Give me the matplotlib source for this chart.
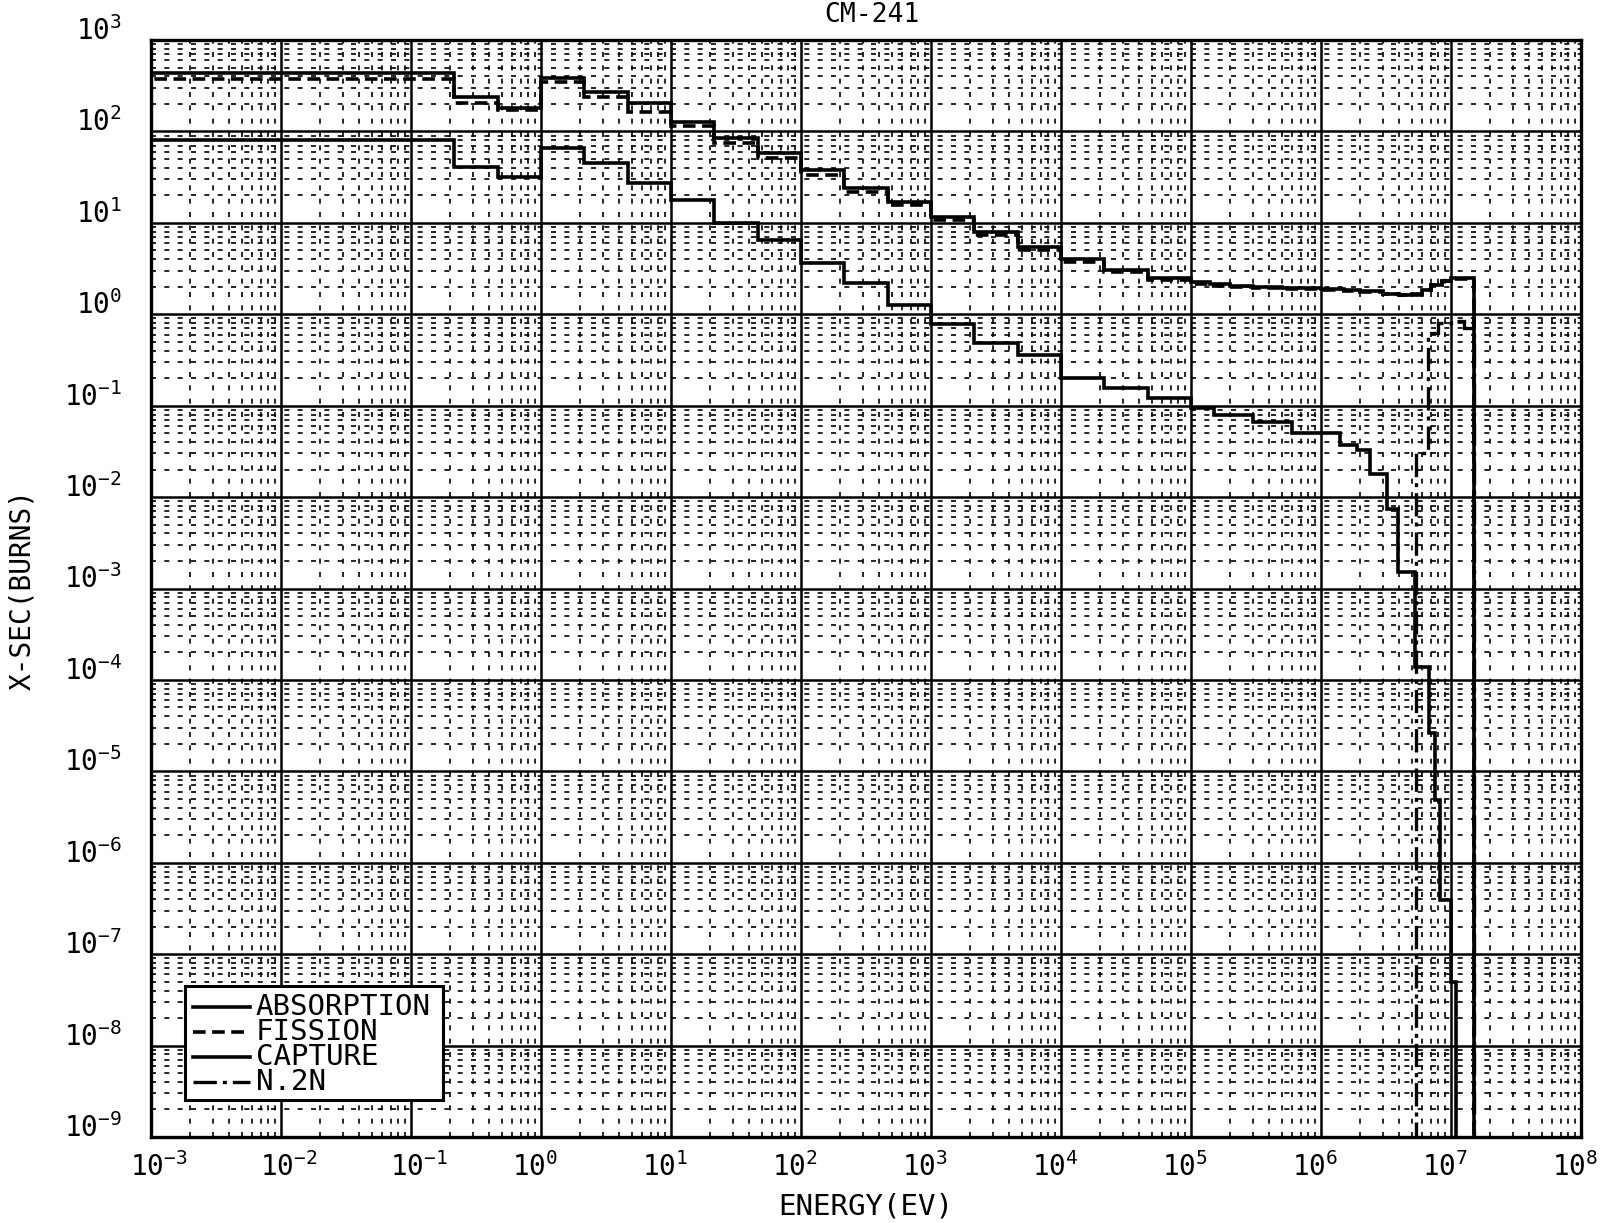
import numpy as np
import matplotlib
matplotlib.use("Agg")
import matplotlib.pyplot as plt
from matplotlib.ticker import LogLocator
from matplotlib.transforms import ScaledTranslation

# ---- group cross sections (barns) versus neutron energy (eV) ----
abs_edges = [1e-3, 0.215, 0.464, 1.0, 2.15, 4.64, 10.0, 21.5, 46.4, 100.0,
             215.0, 464.0, 1e3, 2.15e3, 4.64e3, 1e4, 2.15e4, 4.64e4, 1e5,
             1.4e5, 2e5, 3e5, 5e5, 7e5, 1e6, 1.5e6, 2e6, 3e6, 4e6, 5e6, 6e6,
             7e6, 8.5e6, 1e7, 1.2e7, 1.5e7]
absorption = [436, 238, 180, 385, 270, 205, 126, 85, 58, 37.9,
              24, 16.9, 11.6, 7.94, 5.43, 4.0, 3.05, 2.49,
              2.25, 2.12, 2.05, 1.98, 1.94, 1.92, 1.88, 1.84, 1.80, 1.68,
              1.64, 1.66, 1.86, 2.10, 2.33, 2.50, 2.50]
fission = [374, 205, 171, 345, 240, 163, 115, 74.6, 51, 33.4,
           21.7, 15.7, 10.7, 7.35, 5.0, 3.75, 2.88, 2.36,
           2.15, 2.04, 1.98, 1.92, 1.89, 1.87, 1.84, 1.80, 1.77, 1.66,
           1.62, 1.64, 1.84, 2.08, 2.30, 2.46, 2.46]

cap_edges = [1e-3, 0.215, 0.464, 1.0, 2.15, 4.64, 10.0, 21.5, 46.4, 100.0,
             215.0, 464.0, 1e3, 2.15e3, 4.64e3, 1e4, 2.15e4, 4.64e4, 1e5,
             1.5e5, 3e5, 6e5, 1e6, 1.4e6, 1.9e6, 2.4e6, 3.2e6, 3.9e6, 5.3e6,
             6.8e6, 7.5e6, 8.3e6, 1e7, 1.1e7]
capture = [80.5, 40.7, 31.7, 65.7, 45, 27.2, 17.8, 10.0, 6.5, 3.63,
           2.19, 1.26, 0.78, 0.48, 0.36, 0.20, 0.156, 0.121,
           0.094, 0.080, 0.066, 0.050, 0.050, 0.037, 0.033, 0.018, 0.0075,
           0.0015, 1.4e-4, 2.6e-5, 4.8e-6, 3.9e-7, 5e-8]

n2n_edges = [5.4e6, 6.6e6, 8e6, 1e7, 1.25e7, 1.5e7]
n2n = [0.03, 0.62, 0.80, 0.85, 0.70]

x_ticks = [1e-3, 1e-2, 1e-1, 1e0, 1e1, 1e2, 1e3, 1e4, 1e5, 1e6, 1e7, 1e8]
x_exps = [-3, -2, -1, 0, 1, 2, 3, 4, 5, 6, 7, 8]
y_ticks = [1e-9, 1e-8, 1e-7, 1e-6, 1e-5, 1e-4, 1e-3, 1e-2, 1e-1, 1e0, 1e1, 1e2, 1e3]
y_exps = [-9, -8, -7, -6, -5, -4, -3, -2, -1, 0, 1, 2, 3]

series_labels = ["ABSORPTION", "FISSION", "CAPTURE", "N.2N"]

plt.rcParams["font.family"] = ["DejaVu Sans Mono"]
plt.rcParams["mathtext.default"] = "regular"

W, H = 1612, 1223
fig = plt.figure(figsize=(W / 100, H / 100), dpi=100)
fig.patch.set_facecolor("white")
ax = fig.add_axes([151 / W, 1 - 1137 / H, (1581 - 151) / W, (1137 - 40) / H])
ax.set_xscale("log")
ax.set_yscale("log")
ax.set_xlim(1e-3, 1e8)
ax.set_ylim(1e-9, 1e3)

# grid: solid decades, dashed 2..9 subdivisions
for axis in (ax.xaxis, ax.yaxis):
    axis.set_major_locator(LogLocator(base=10, numticks=40))
    axis.set_minor_locator(LogLocator(base=10, subs=np.arange(2, 10), numticks=40))
ax.grid(True, which="major", color="k", lw=1.8, zorder=1)
ax.grid(True, which="minor", color="k", lw=1.2, ls=(0, (3, 5)), zorder=1)
ax.set_axisbelow(True)
ax.tick_params(which="both", length=0)
for sp in ax.spines.values():
    sp.set_linewidth(2.4)

styles = {
    "abs": dict(color="k", lw=2.6, ls="-"),
    "fis": dict(color="k", lw=2.6, ls=(0, (3.5, 1.8))),
    "cap": dict(color="k", lw=2.6, ls="-"),
    "n2n": dict(color="k", lw=2.4, ls=(0, (7, 1.8, 1.2, 1.8))),
}
floor = 1e-12
ax.stairs(absorption, abs_edges, baseline=floor, zorder=4, **styles["abs"])
ax.stairs(fission, abs_edges, baseline=floor, zorder=4, **styles["fis"])
ax.stairs(capture, cap_edges, baseline=floor, zorder=4, **styles["cap"])
ax.stairs(n2n, n2n_edges, baseline=floor, zorder=4, **styles["n2n"])

# tick labels
ax.set_xticks(x_ticks)
ax.set_xticklabels([r"$10^{%d}$" % e for e in x_exps], fontsize=20)
ax.set_yticks(y_ticks)
ax.set_yticklabels([r"$10^{%d}$" % e for e in y_exps], fontsize=20)
ax.tick_params(axis="x", pad=11)
ax.tick_params(axis="y", pad=21)
for lab, e in zip(ax.get_xticklabels(), x_exps):
    dx = 8 if e < 0 else -6
    lab.set_transform(lab.get_transform()
                      + ScaledTranslation(dx / 100, 0, fig.dpi_scale_trans))
for lab in ax.get_yticklabels():
    lab.set_verticalalignment("baseline")

# titles
fig.text(872 / W, 1 - 15 / H, "CM-241", ha="center", va="center", fontsize=19)
fig.text(866 / W, 1 - 1206 / H, "ENERGY(EV)", ha="center", va="center", fontsize=21)
fig.text(22 / W, 1 - 590 / H, "X-SEC(BURNS)", ha="center", va="center",
         rotation=90, fontsize=20)

# legend box
lx0, ly0, lx1, ly1 = 185, 986, 443, 1100
lg = fig.add_axes([lx0 / W, 1 - ly1 / H, (lx1 - lx0) / W, (ly1 - ly0) / H])
lg.set_xlim(0, 1)
lg.set_ylim(0, 1)
lg.set_xticks([])
lg.set_yticks([])
lg.set_facecolor("white")
for sp in lg.spines.values():
    sp.set_linewidth(2.2)
rows = [0.816, 0.596, 0.377, 0.158]
keys = ["abs", "fis", "cap", "n2n"]
for yr, key, lab in zip(rows, keys, series_labels):
    lg.plot([0.031, 0.252], [yr, yr], **styles[key])
    lg.text(0.275, yr, lab, ha="left", va="center", fontsize=21)

fig.savefig("out.png", dpi=100)
